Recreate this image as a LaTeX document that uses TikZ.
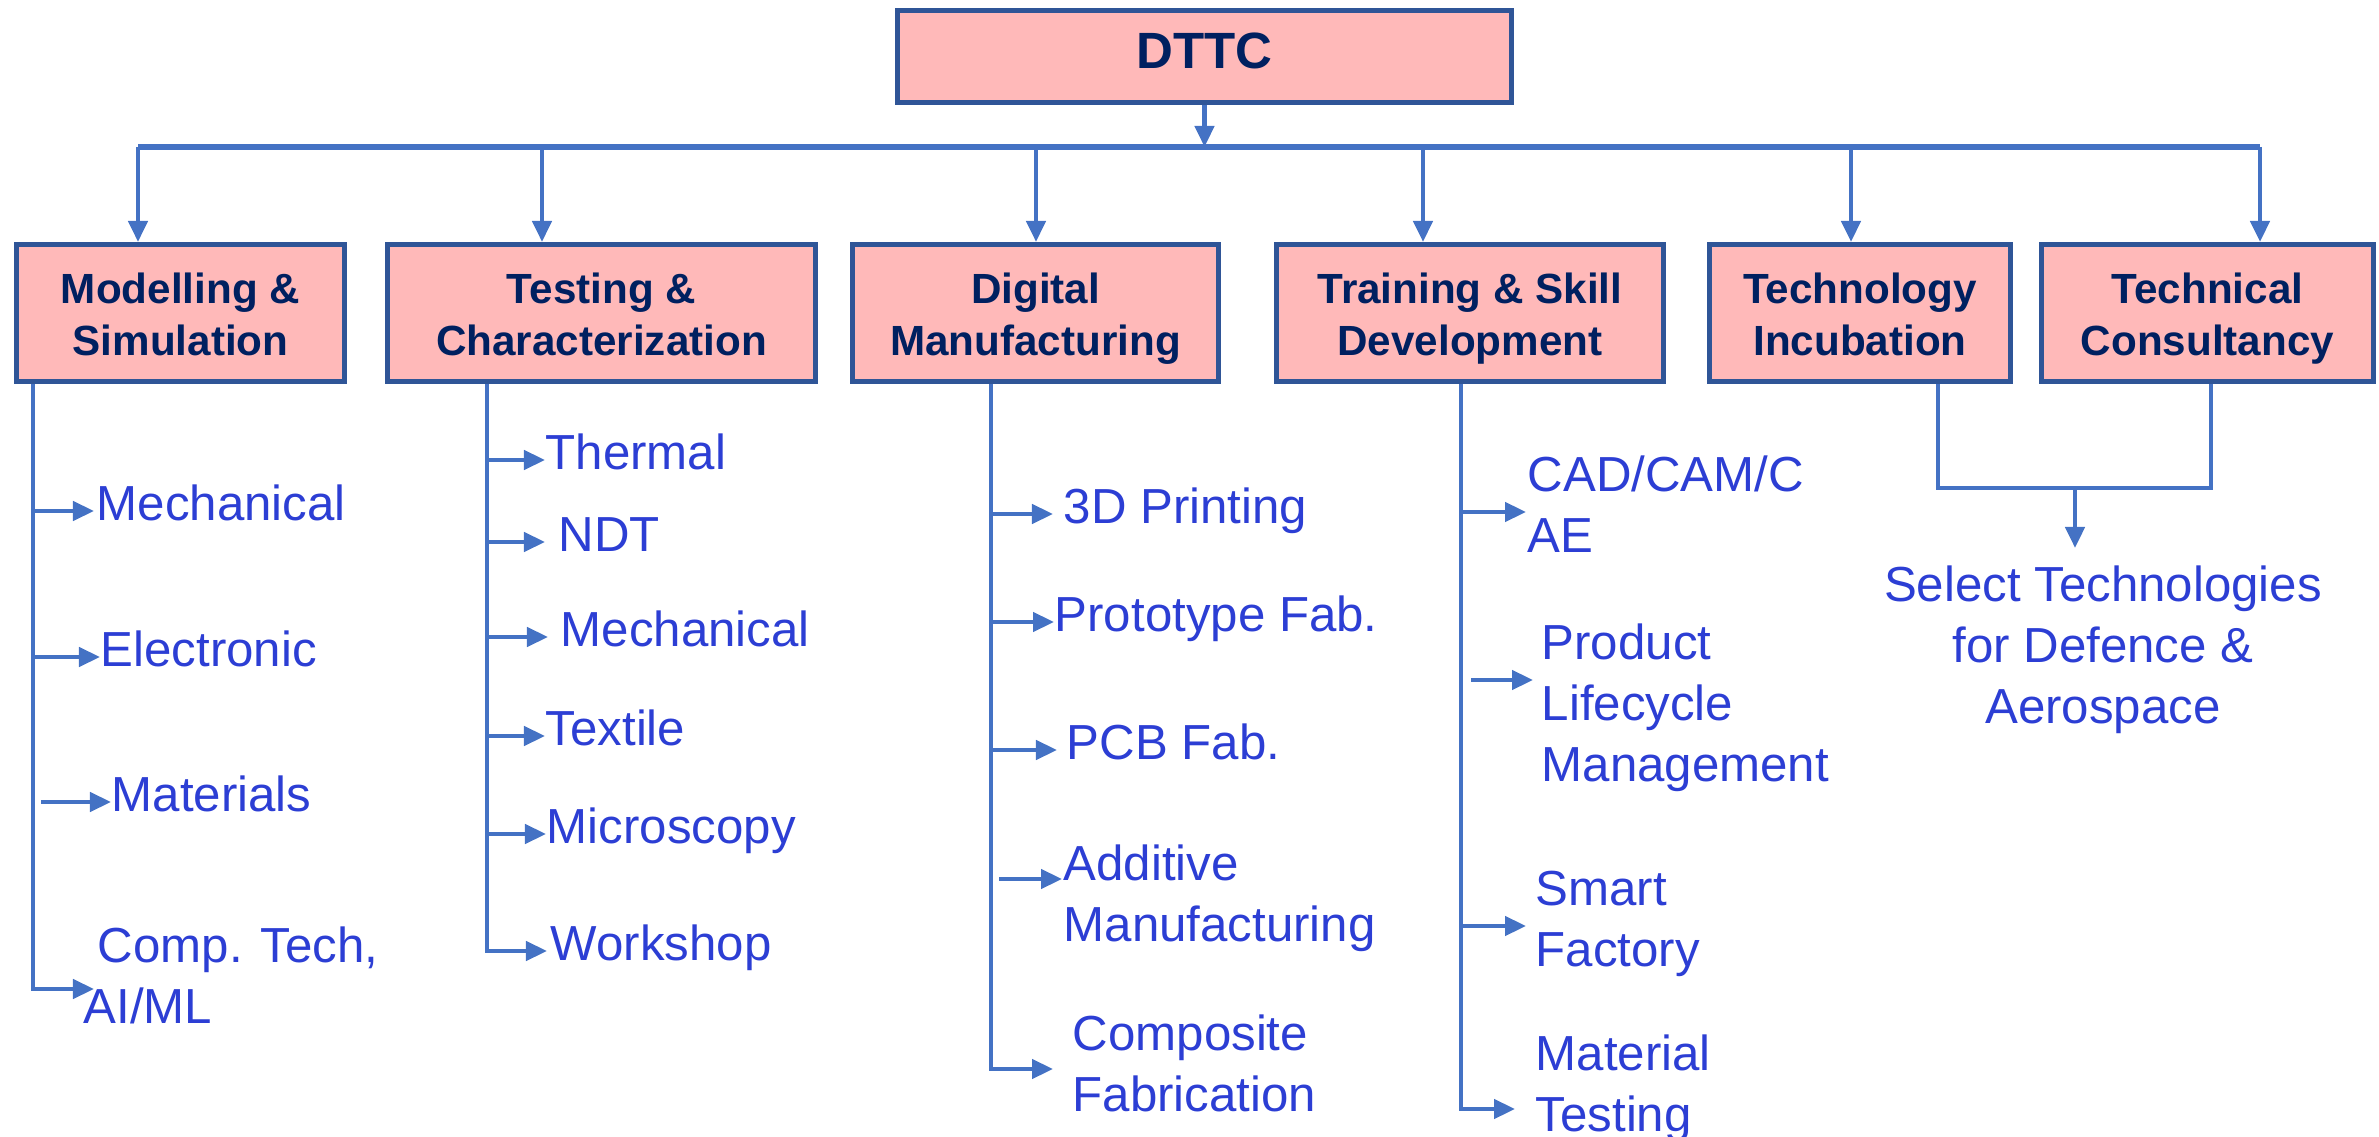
\documentclass[tikz,border=0pt]{standalone}
\usepackage{fontspec}
\setmainfont{Liberation Sans}
\usetikzlibrary{arrows.meta}
\definecolor{boxfill}{RGB}{255,185,185}
\definecolor{boxedge}{RGB}{47,85,151}
\definecolor{boxtext}{RGB}{0,32,96}
\definecolor{wireblue}{RGB}{68,114,196}
\definecolor{leafblue}{RGB}{44,62,212}
\newcommand{\boxtop}{\rule{0pt}{12.2pt}}
\tikzset{
  catbox/.style={draw=boxedge,fill=boxfill,line width=0.05cm,inner sep=0pt,minimum height=1.37cm,
    align=center,text=boxtext,font=\bfseries\fontsize{12}{14.8}\selectfont,
    execute at end node={\vphantom{g}}},
  wire/.style={draw=wireblue,line width=0.045cm},
  feed/.style={wire,-{Triangle[length=0.21cm,width=0.19cm]}},
  leaf/.style={anchor=west,inner sep=0pt,text height=7pt,text depth=1.4pt,text=leafblue,
    font=\fontsize{14}{17.35}\selectfont},
  leaves/.style={anchor=north west,inner sep=0pt,align=left,text=leafblue,
    font=\fontsize{14}{17.35}\selectfont}
}
\begin{document}
\begin{tikzpicture}[x=0.01cm,y=-0.01cm]
    \useasboundingbox (0,0) rectangle (2379,1137);
    \node[catbox,minimum width=6.14cm,minimum height=0.92cm,font=\bfseries\fontsize{14.5}{17}\selectfont,
      execute at end node={}] (dttc) at (1204.5,56.5) {DTTC};
    \node[catbox,minimum width=3.28cm] (ms) at (180.5,313) {\boxtop Modelling \&\\Simulation};
    \node[catbox,minimum width=4.28cm] (tc) at (601.5,313) {\boxtop Testing \&\\Characterization};
    \node[catbox,minimum width=3.66cm] (dm) at (1035.5,313) {\boxtop Digital\\Manufacturing};
    \node[catbox,minimum width=3.87cm] (tsd) at (1470,313) {\boxtop Training \& Skill\\Development};
    \node[catbox,minimum width=3.01cm] (ti) at (1860,313) {\boxtop Technology\\Incubation};
    \node[catbox,minimum width=3.32cm] (tcon) at (2207.5,313) {\boxtop Technical\\Consultancy};
    % bus
    \coordinate (d1) at (138,147);
    \coordinate (d2) at (542,147);
    \coordinate (d3) at (1036,147);
    \coordinate (d4) at (1423,147);
    \coordinate (d5) at (1851,147);
    \coordinate (d6) at (2260,147);
    \draw[wire,line width=0.065cm] (d1) -- (d6);
    \draw[feed] (dttc.south) -- (dttc.south |- d1);
    \draw[feed] (d1) -- (d1 |- ms.north);
    \draw[feed] (d2) -- (d2 |- tc.north);
    \draw[feed] (d3) -- (d3 |- dm.north);
    \draw[feed] (d4) -- (d4 |- tsd.north);
    \draw[feed] (d5) -- (d5 |- ti.north);
    \draw[feed] (d6) -- (d6 |- tcon.north);
    % modelling
    \coordinate (ms-sp) at (ms.south -| 33,0);
    \node[leaf] (ms1) at (96,511) {Mechanical};
    \node[leaf] (ms2) at (100,657) {Electronic};
    \node[leaf] (ms3) at (111,802) {Materials};
    \node[leaves] (ms4) at (83,926) {\hspace*{0.14cm}Comp. Tech,\\AI/ML};
    \coordinate (ms4-in) at (94,989);
    \draw[feed] (ms-sp) |- (ms4-in);
    \draw[feed] (ms-sp |- ms1.west) -- ([xshift=-0.02cm]ms1.west);
    \draw[feed] (ms-sp |- ms2.west) -- (ms2.west);
    \draw[feed,shorten <=0.08cm] (ms-sp |- ms3.west) -- (ms3.west);
    % testing
    \coordinate (tc-sp) at (tc.south -| 487,0);
    \node[leaf] (tc1) at (545,460) {Thermal};
    \node[leaf] (tc2) at (558,542) {NDT};
    \node[leaf] (tc3) at (560,637) {Mechanical};
    \node[leaf] (tc4) at (545,736) {Textile};
    \node[leaf] (tc5) at (546,834) {Microscopy};
    \node[leaf] (tc6) at (550,951) {Workshop};
    \draw[feed] (tc-sp) |- ([xshift=-0.03cm]tc6.west);
    \draw[feed] (tc-sp |- tc1.west) -- (tc1.west);
    \draw[feed] (tc-sp |- tc2.west) -- ([xshift=-0.13cm]tc2.west);
    \draw[feed] (tc-sp |- tc3.west) -- ([xshift=-0.12cm]tc3.west);
    \draw[feed] (tc-sp |- tc4.west) -- (tc4.west);
    \draw[feed] (tc-sp |- tc5.west) -- (tc5.west);
    % digital
    \coordinate (dm-sp) at (dm.south -| 991,0);
    \node[leaf] (dm1) at (1063,514) {3D Printing};
    \node[leaf] (dm2) at (1054,622) {Prototype Fab.};
    \node[leaf] (dm3) at (1066,750) {PCB Fab.};
    \node[leaves] (dm4) at (1063,844) {Additive\\Manufacturing};
    \node[leaves] (dm5) at (1072,1014) {Composite\\Fabrication};
    \coordinate (dm4-in) at (1062,879);
    \coordinate (dm5-in) at (1053,1069);
    \draw[feed] (dm-sp) |- (dm5-in);
    \draw[feed] (dm-sp |- dm1.west) -- ([xshift=-0.1cm]dm1.west);
    \draw[feed] (dm-sp |- dm2.west) -- (dm2.west);
    \draw[feed] (dm-sp |- dm3.west) -- ([xshift=-0.09cm]dm3.west);
    \draw[feed,shorten <=0.08cm] (dm-sp |- dm4-in) -- (dm4-in);
    % training
    \coordinate (tsd-sp) at (tsd.south -| 1461,0);
    \node[leaves] (tsd1) at (1527,455) {CAD/CAM/C\\AE};
    \node[leaves] (tsd2) at (1541,623) {Product\\Lifecycle\\Management};
    \node[leaves] (tsd3) at (1535,870) {Smart\\Factory};
    \node[leaves] (tsd4) at (1535,1034) {Material\\Testing};
    \coordinate (tsd1-in) at (1526,512);
    \coordinate (tsd2-in) at (1533,680);
    \coordinate (tsd3-in) at (1526,926);
    \coordinate (tsd4-in) at (1515,1109);
    \draw[feed] (tsd-sp) |- (tsd4-in);
    \draw[feed] (tsd-sp |- tsd1-in) -- (tsd1-in);
    \draw[feed,shorten <=0.1cm] (tsd-sp |- tsd2-in) -- (tsd2-in);
    \draw[feed] (tsd-sp |- tsd3-in) -- (tsd3-in);
    % incubation + consultancy
    \coordinate (ti-out) at (ti.south -| 1938,0);
    \coordinate (tcon-out) at (tcon.south -| 2211,0);
    \coordinate (jn) at (2075,488);
    \node[leaves,anchor=north,align=center] (sel) at (2103,565) {Select Technologies\\for Defence \&\\Aerospace};
    \draw[wire] (ti-out) |- (jn) -| (tcon-out);
    \draw[feed,shorten >=0.17cm] (jn) -- (jn |- sel.north);
\end{tikzpicture}
\end{document}
